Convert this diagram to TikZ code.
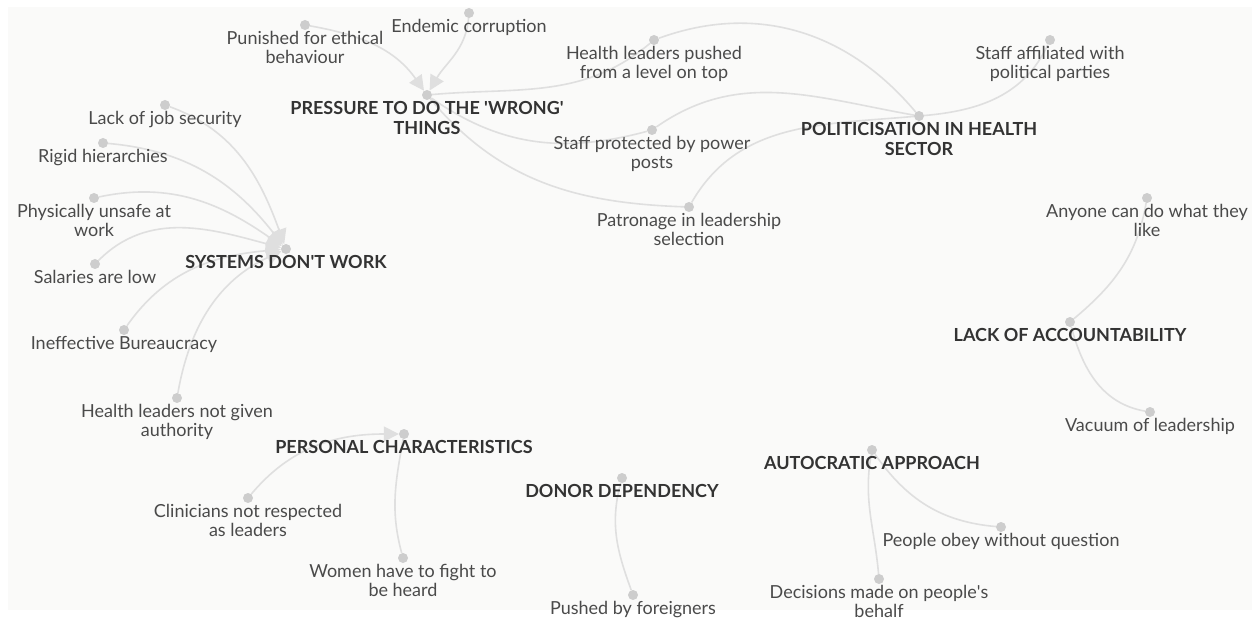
\documentclass[tikz,border=0pt]{standalone}
\usepackage{fontspec}
\setmainfont{Lato}
\usetikzlibrary{arrows.meta,backgrounds}
\definecolor{bgcol}{HTML}{FAFAF9}
\definecolor{dotcol}{HTML}{CDCDCD}
\definecolor{linkcol}{HTML}{DFDFDF}
\definecolor{leafcol}{HTML}{4A4A4A}
\definecolor{hubcol}{HTML}{333333}
\tikzset{
  dot/.style={circle,fill=dotcol,inner sep=0pt,minimum size=10pt},
  leaf/.style={text=leafcol,font=\fontsize{18}{19}\selectfont,align=center,inner sep=0pt},
  hub/.style={text=hubcol,font=\fontsize{18}{20}\selectfont\bfseries,align=center,inner sep=0pt},
  link/.style={color=linkcol,line width=1.6pt},
  push/.style={-{Triangle[length=15pt,width=15pt]}},
}
\begin{document}
\begin{tikzpicture}[x=1pt,y=1pt,label distance=1pt]
      \useasboundingbox (0,0) rectangle (1260,619);
      \draw
        (427,524) node[dot,label={[hub]below:{PRESSURE TO DO THE \textquotesingle WRONG\textquotesingle\\THINGS}}] (pres){}
        (305,594) node[dot,label={[leaf]below:{Punished for ethical\\behaviour}}] (pun){}
        (469,606) node[dot,label={[leaf]below:{Endemic corruption}}] (corr){}
        (654,579) node[dot,label={[leaf]below:{Health leaders pushed\\from a level on top}}] (hlp){}
        (652,489) node[dot,label={[leaf]below:{Staff protected by power\\posts}}] (spp){}
        (689,412) node[dot,label={[leaf]below:{Patronage in leadership\\selection}}] (pat){}
        (919,503) node[dot,label={[hub]below:{POLITICISATION IN HEALTH\\SECTOR}}] (pol){}
        (1050,579) node[dot,label={[leaf]below:{Staff affiliated with\\political parties}}] (saf){}
        (1147,421) node[dot,label={[leaf]below:{Anyone can do what they\\like}}] (any){}
        (1070,297) node[dot,label={[hub]below:{LACK OF ACCOUNTABILITY}}] (lac){}
        (1150,207) node[dot,label={[leaf]below:{Vacuum of leadership}}] (vac){}
        (872,169) node[dot,label={[hub]below:{AUTOCRATIC APPROACH}}] (aut){}
        (1001,92) node[dot,label={[leaf]below:{People obey without question}}] (obey){}
        (879,40) node[dot,label={[leaf]below:{Decisions made on people\textquotesingle s\\behalf}}] (dec){}
        (622,141) node[dot,label={[hub]below:{DONOR DEPENDENCY}}] (don){}
        (633,24) node[dot,label={[leaf]below:{Pushed by foreigners}}] (fgn){}
        (404,185) node[dot,label={[hub]below:{PERSONAL CHARACTERISTICS}}] (pers){}
        (248,121) node[dot,label={[leaf]below:{Clinicians not respected\\as leaders}}] (cli){}
        (403,61) node[dot,label={[leaf]below:{Women have to fight to\\be heard}}] (wom){}
        (286,370) node[dot,label={[hub]below:{SYSTEMS DON\textquotesingle T WORK}}] (sys){}
        (165,514) node[dot,label={[leaf]below:{Lack of job security}}] (job){}
        (103,476) node[dot,label={[leaf]below:{Rigid hierarchies}}] (rig){}
        (94,421) node[dot,label={[leaf]below:{Physically unsafe at\\work}}] (phy){}
        (95,355) node[dot,label={[leaf]below:{Salaries are low}}] (sal){}
        (124,289) node[dot,label={[leaf]below:{Ineffective Bureaucracy}}] (ine){}
        (177,221) node[dot,label={[leaf]below:{Health leaders not given\\authority}}] (hng){};
      \begin{scope}[on background layer]
        \fill[white] (0,0) rectangle (1260,619);
        \fill[bgcol] (8,9) rectangle (1252,612);
      \begin{scope}[link]
        % pressure
        \draw[push] (pun) to[out=-10,in=125] (pres);
        \draw[push] (corr) to[out=-95,in=60] (pres);
        \draw (pres) to[out=5,in=-140] (hlp);
        \draw (pres) to[out=-35,in=-165] (spp);
        \draw (pres) to[out=-50,in=178] (pat);
        % politicisation
        \draw (hlp) to[out=20,in=130] (pol);
        \draw (spp) to[out=35,in=170] (pol);
        \draw (pat) to[out=60,in=-175] (pol);
        \draw (pol) to[out=5,in=-115] (saf);
        % accountability, autocracy, donors
        \draw (any) to[out=-100,in=40] (lac);
        \draw (lac) to[out=-75,in=170] (vac);
        \draw (aut) to[out=-100,in=95] (dec);
        \draw (aut) to[out=-55,in=175] (obey);
        \draw (don) to[out=-105,in=110] (fgn);
        % personal
        \draw[push] (cli) to[out=50,in=180] (pers);
        \draw (wom) to[out=105,in=-100] (pers);
        % systems
        \draw[push] (job) to[out=-20,in=110] (sys);
        \draw[push] (rig) to[out=-5,in=128] (sys);
        \draw[push] (phy) to[out=12,in=145] (sys);
        \draw[push] (sal) to[out=45,in=165] (sys);
        \draw[push] (ine) to[out=55,in=185] (sys);
        \draw[push] (hng) to[out=80,in=205] (sys);
      \end{scope}
      \end{scope}
    \end{tikzpicture}
\end{document}
